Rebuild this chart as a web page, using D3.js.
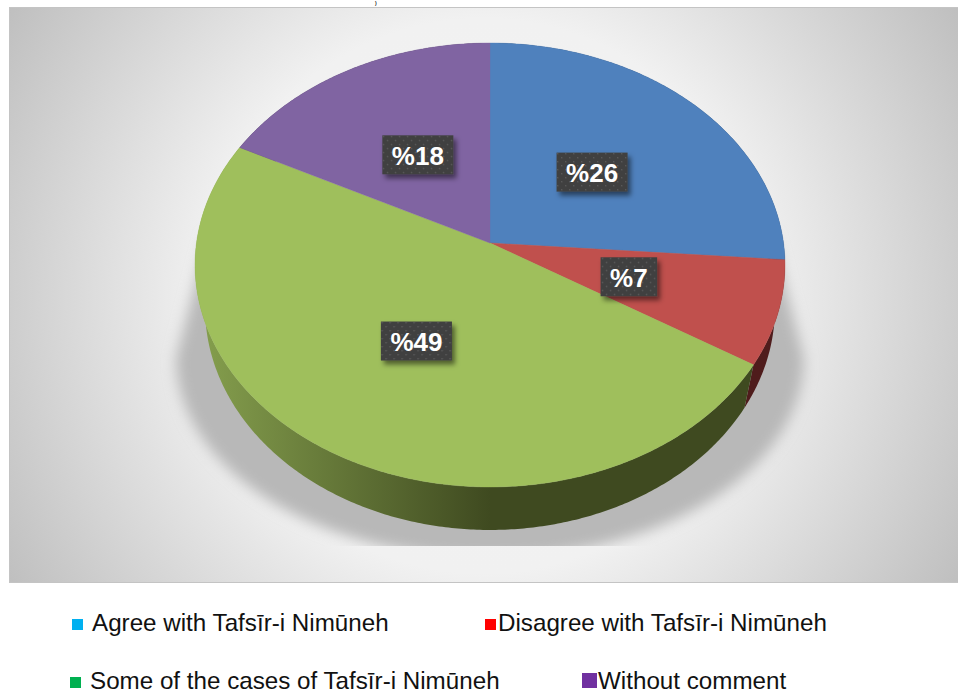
<!DOCTYPE html>
<html>
<head>
<meta charset="utf-8">
<script src="https://cdn.jsdelivr.net/npm/d3@7"></script>
<style>
  html, body { margin: 0; padding: 0; background: #fff; overflow: hidden; }
  svg { display: block; }
</style>
</head>
<body>
<div id="chart"></div>
<script>
const categories = [
  "Agree with Tafsīr-i Nimūneh",
  "Disagree with Tafsīr-i Nimūneh",
  "Some of the cases of Tafsīr-i Nimūneh",
  "Without comment"
];

// slice sizes, the printed labels are rounded
const shares = [26.2, 7.6, 48.7, 17.5];
const sliceLabels = ["%26", "%7", "%49", "%18"];

const topColors = ["#4f81bd", "#c0504d", "#9fbf5c", "#8064a2"];
const legendColors = ["#00b0f0", "#ff0000", "#00b050", "#7030a0"];

const width = 958;
const height = 692;

const cx = 490;
const cy = 243;
const radiusX = 293.5;
const radiusY = 219.8;
const tilt = 0.0991;   // perspective of the disc, near side looks bigger
const depth = 43;
const baseScale = 0.966;

const svg = d3.select("#chart")
  .append("svg")
  .attr("width", width)
  .attr("height", height);

const defs = svg.append("defs");

const bgGrad = defs.append("radialGradient")
  .attr("id", "bg")
  .attr("gradientUnits", "userSpaceOnUse")
  .attr("cx", 483).attr("cy", 296).attr("r", 555);
bgGrad.append("stop").attr("offset", "0%").attr("stop-color", "#f3f3f3");
bgGrad.append("stop").attr("offset", "50%").attr("stop-color", "#f1f1f1");
bgGrad.append("stop").attr("offset", "100%").attr("stop-color", "#bfbfbf");

const wallGrad = defs.append("linearGradient")
  .attr("id", "wall")
  .attr("gradientUnits", "userSpaceOnUse")
  .attr("x1", 195).attr("x2", 490).attr("y1", 0).attr("y2", 0);
wallGrad.append("stop").attr("offset", "0%").attr("stop-color", "#86a04e");
wallGrad.append("stop").attr("offset", "100%").attr("stop-color", "#3f4a20");

defs.append("filter")
  .attr("id", "soft")
  .attr("x", "-20%").attr("y", "-20%").attr("width", "140%").attr("height", "140%")
  .append("feGaussianBlur").attr("stdDeviation", 7);

const labelShadow = defs.append("filter")
  .attr("id", "labelShadow")
  .attr("x", "-30%").attr("y", "-30%").attr("width", "160%").attr("height", "170%");
labelShadow.append("feDropShadow")
  .attr("dx", 3).attr("dy", 4).attr("stdDeviation", 2.5)
  .attr("flood-color", "#000").attr("flood-opacity", 0.5);

const dots = defs.append("pattern")
  .attr("id", "dots")
  .attr("patternUnits", "userSpaceOnUse")
  .attr("width", 8).attr("height", 8);
dots.append("rect").attr("width", 8).attr("height", 8).attr("fill", "#404040");
dots.append("rect").attr("x", 1).attr("y", 1).attr("width", 1.3).attr("height", 1.3).attr("fill", "#5e5e5e");
dots.append("rect").attr("x", 5).attr("y", 5).attr("width", 1.3).attr("height", 1.3).attr("fill", "#5e5e5e");

defs.append("clipPath")
  .attr("id", "shadowClip")
  .append("rect")
  .attr("x", 9).attr("y", 8).attr("width", 949).attr("height", 538);

// panel
svg.append("rect")
  .attr("x", 9.5).attr("y", 7.5)
  .attr("width", 960).attr("height", 575)
  .attr("fill", "url(#bg)")
  .attr("stroke", "#c4c4c4");

// tail of the line above the chart, all that is left of it
svg.append("text")
  .attr("x", 375)
  .attr("y", 4.5)
  .attr("font-family", "Liberation Sans")
  .attr("font-weight", "bold")
  .attr("font-size", 5)
  .attr("fill", "#222")
  .text(")");

const lineGen = d3.line();

// point on the disc: angle clockwise from the top, r 0..1
function project(angle, r, sx) {
  const x = Math.sin(angle) * r;
  const y = -Math.cos(angle) * r;
  const w = 1 - tilt * y;
  return [cx + sx * radiusX * x / w, cy + radiusY * y / w];
}

function sampleAngles(a0, a1) {
  const n = Math.ceil((a1 - a0) / 0.01);
  return d3.range(n + 1).map(i => a0 + (a1 - a0) * i / n);
}

// shadow on the floor
const shadowX = d3.scaleLinear().domain([-1, 1]).range([cx - 314, cx + 314]);
const shadowY = d3.scaleLinear().domain([0, 1]).range([358, 558]);
const shadowPts = sampleAngles(0, Math.PI)
  .map(t => [shadowX(Math.cos(t)), shadowY(Math.sin(t))]);
shadowPts.push([cx - 282, 235], [cx + 282, 235]);

svg.append("g")
  .attr("clip-path", "url(#shadowClip)")
  .append("path")
  .attr("d", lineGen(shadowPts) + "Z")
  .attr("fill", "#b8b8b8")
  .attr("filter", "url(#soft)");

const slices = d3.pie().sort(null).value(d => d)(shares);

const color = d3.scaleOrdinal().domain(categories).range(topColors);
const legendColor = d3.scaleOrdinal().domain(categories).range(legendColors);

// side wall, only the near slices show
const wallFill = ["#27405e", "#4f1c1c", "url(#wall)", "#403251"];

svg.append("g")
  .selectAll("path")
  .data(slices)
  .enter()
  .append("path")
  .attr("d", d => {
    const angles = sampleAngles(d.startAngle, d.endAngle);
    const top = angles.map(a => project(a, 1, 1));
    const base = angles.slice().reverse().map(a => {
      const p = project(a, 1, baseScale);
      return [p[0], p[1] + depth];
    });
    return lineGen(top.concat(base)) + "Z";
  })
  .attr("fill", (d, i) => wallFill[i]);

// top of the disc
svg.append("g")
  .selectAll("path")
  .data(slices)
  .enter()
  .append("path")
  .attr("d", d => {
    const rim = sampleAngles(d.startAngle, d.endAngle).map(a => project(a, 1, 1));
    return lineGen([[cx, cy]].concat(rim)) + "Z";
  })
  .attr("fill", (d, i) => color(categories[i]))
  .attr("stroke", (d, i) => color(categories[i]))
  .attr("stroke-width", 0.4);

// value labels sit half way out along each slice
const labels = svg.append("g")
  .selectAll("g")
  .data(slices)
  .enter()
  .append("g")
  .attr("transform", d => {
    const p = project((d.startAngle + d.endAngle) / 2, 0.49, 1);
    return `translate(${p[0]},${p[1]})`;
  });

labels.append("rect")
  .attr("fill", "url(#dots)")
  .attr("filter", "url(#labelShadow)");

labels.append("text")
  .attr("text-anchor", "middle")
  .attr("dy", "0.39em")
  .attr("font-family", "Liberation Sans")
  .attr("font-weight", "bold")
  .attr("font-size", 26)
  .attr("fill", "#fff")
  .text((d, i) => sliceLabels[i]);

labels.each(function() {
  const g = d3.select(this);
  const w = g.select("text").node().getComputedTextLength() + 19;
  g.select("rect")
    .attr("x", -w / 2).attr("y", -19.5)
    .attr("width", w).attr("height", 39);
});

// legend, laid out by hand in the original so each entry has its own place
const legendLayout = [
  { boxX: 72, boxY: 619, box: 11, textX: 92, textY: 630.5 },
  { boxX: 485, boxY: 619, box: 11, textX: 498, textY: 630.5 },
  { boxX: 70, boxY: 677, box: 11, textX: 90, textY: 688.5 },
  { boxX: 582, boxY: 673, box: 15, textX: 598, textY: 688.5 }
];

const legend = svg.append("g")
  .selectAll("g")
  .data(categories)
  .enter()
  .append("g");

legend.append("rect")
  .attr("x", (d, i) => legendLayout[i].boxX)
  .attr("y", (d, i) => legendLayout[i].boxY)
  .attr("width", (d, i) => legendLayout[i].box)
  .attr("height", (d, i) => legendLayout[i].box)
  .attr("fill", d => legendColor(d));

legend.append("text")
  .attr("x", (d, i) => legendLayout[i].textX)
  .attr("y", (d, i) => legendLayout[i].textY)
  .attr("font-family", "Liberation Sans")
  .attr("font-size", 24.2)
  .attr("fill", "#111")
  .text(d => d);
</script>
</body>
</html>
